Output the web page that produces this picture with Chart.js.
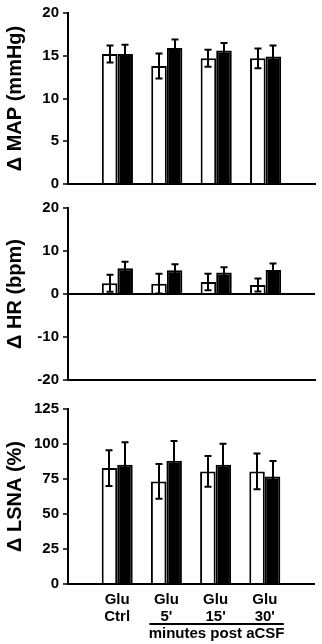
<!DOCTYPE html>
<html>
<head>
<meta charset="utf-8">
<script src="https://cdn.jsdelivr.net/npm/chart.js@4/dist/chart.umd.min.js"></script>
<style>
  html, body { margin: 0; padding: 0; background: #fff; }
  body { width: 322px; height: 644px; position: relative; overflow: hidden; }
  canvas { position: absolute; left: 0; }
</style>
</head>
<body>
<canvas id="c1" width="322" height="200" style="top:0px"></canvas>
<canvas id="c2" width="322" height="200" style="top:195px"></canvas>
<canvas id="c3" width="322" height="249" style="top:395px"></canvas>
<script>
// ---- data ----
const categories = [['Glu', 'Ctrl'], ['Glu', "5'"], ['Glu', "15'"], ['Glu', "30'"]];
const mapWhite = [15.2, 13.8, 14.7, 14.7];
const mapWhiteErr = [1.0, 1.45, 1.0, 1.15];
const mapBlack = [15.2, 15.9, 15.6, 14.9];
const mapBlackErr = [1.1, 1.0, 0.9, 1.3];
const hrWhite = [2.5, 2.4, 2.8, 2.1];
const hrWhiteErr = [2.0, 2.3, 1.9, 1.5];
const hrBlack = [6.0, 5.5, 5.0, 5.6];
const hrBlackErr = [1.5, 1.4, 1.2, 1.5];
const lsnaWhite = [82.8, 73.3, 80.4, 80.4];
const lsnaWhiteErr = [12.8, 12.4, 11.0, 12.8];
const lsnaBlack = [85.2, 88.1, 85.2, 76.8];
const lsnaBlackErr = [16.0, 14.0, 15.0, 11.0];
const mapTicks = [0, 20, 5];
const hrTicks = [-20, 20, 10];
const lsnaTicks = [0, 125, 25];
const groupNote = 'minutes post aCSF';

// padded with empty slots at both ends of the axis
const pad = a => [null, ...a, null];
const labels = ['', ...categories, ''];
const FONT = "'Liberation Sans', Arial, Helvetica, sans-serif";

const errorBars = {
  id: 'errorBars',
  afterDatasetsDraw(chart) {
    const ctx = chart.ctx;
    const ys = chart.scales.y;
    ctx.save();
    ctx.strokeStyle = '#000';
    ctx.lineWidth = 2;
    chart.data.datasets.forEach((ds, di) => {
      const meta = chart.getDatasetMeta(di);
      meta.data.forEach((el, i) => {
        const v = ds.data[i], e = ds.errors[i];
        if (v == null || e == null) return;
        const x = Math.round(el.x);
        const yt = ys.getPixelForValue(v + e);
        const yb = ys.getPixelForValue(v - e);
        ctx.beginPath();
        ctx.moveTo(x, yt); ctx.lineTo(x, yb);
        ctx.moveTo(x - 3.5, yt); ctx.lineTo(x + 3.5, yt);
        ctx.moveTo(x - 3.5, yb); ctx.lineTo(x + 3.5, yb);
        ctx.stroke();
      });
    });
    ctx.restore();
  }
};

const groupLabel = {
  id: 'groupLabel',
  afterDraw(chart) {
    if (!chart.options.plugins.groupLabel || !chart.options.plugins.groupLabel.show) return;
    const ctx = chart.ctx;
    const xs = chart.scales.x;
    const left = xs.getPixelForValue(2) - 17;
    const right = xs.getPixelForValue(4) + 19;
    const yLine = chart.chartArea.bottom + 40;
    ctx.save();
    ctx.strokeStyle = '#000';
    ctx.lineWidth = 2;
    ctx.beginPath();
    ctx.moveTo(left, yLine); ctx.lineTo(right, yLine);
    ctx.stroke();
    ctx.fillStyle = '#000';
    ctx.font = "bold 15px " + FONT;
    ctx.textAlign = 'center';
    ctx.textBaseline = 'middle';
    ctx.fillText(groupNote, (left + right) / 2, yLine + 10);
    ctx.restore();
  }
};

function makeChart(id, white, whiteErr, black, blackErr, ticks, title, opts) {
  const [ymin, ymax, step] = ticks;
  const showX = opts.showX;
  return new Chart(document.getElementById(id), {
    type: 'bar',
    data: {
      labels: labels,
      datasets: [
        { data: pad(white), errors: pad(whiteErr), backgroundColor: '#fff', borderColor: '#000', borderWidth: 2 },
        { data: pad(black), errors: pad(blackErr), backgroundColor: '#000', borderColor: '#000', borderWidth: 2 }
      ]
    },
    options: {
      responsive: false,
      animation: false,
      devicePixelRatio: 1,
      layout: { padding: { top: opts.top, bottom: opts.bottom, left: 0, right: 7 } },
      categoryPercentage: 0.63,
      barPercentage: 1.0,
      plugins: {
        legend: { display: false },
        tooltip: { enabled: false },
        groupLabel: { show: !!opts.note }
      },
      scales: {
        x: {
          offset: false,
          grid: { drawOnChartArea: false, drawTicks: false },
          border: { display: true, color: '#000', width: 2 },
          ticks: {
            display: showX,
            autoSkip: false,
            maxRotation: 0,
            color: '#000',
            padding: 8,
            font: { family: FONT, size: 15, weight: 'bold', lineHeight: 1.1 }
          },
          afterFit: s => { s.height = showX ? 60 : 0; }
        },
        y: {
          min: ymin, max: ymax,
          ticks: {
            stepSize: step,
            color: '#000',
            padding: 4,
            font: { family: FONT, size: 15, weight: 'bold' }
          },
          grid: {
            drawOnChartArea: !!opts.zeroLine,
            drawTicks: true,
            tickLength: 5,
            tickColor: '#000',
            tickWidth: 1.5,
            color: c => (opts.zeroLine && c.tick && c.tick.value === 0) ? '#000' : 'rgba(0,0,0,0)',
            lineWidth: 2
          },
          border: { display: true, color: '#000', width: 2 },
          title: {
            display: true,
            text: title,
            color: '#000',
            padding: { top: 3, bottom: 0 },
            font: { family: FONT, size: 20, weight: 'bold' }
          },
          afterFit: s => { s.width = 68; }
        }
      }
    },
    plugins: [errorBars, groupLabel]
  });
}

makeChart('c1', mapWhite, mapWhiteErr, mapBlack, mapBlackErr, mapTicks, '\u0394 MAP (mmHg)',
  { top: 9, bottom: 16, showX: false });
makeChart('c2', hrWhite, hrWhiteErr, hrBlack, hrBlackErr, hrTicks, '\u0394 HR (bpm)',
  { top: 10, bottom: 15, showX: false, zeroLine: true });
makeChart('c3', lsnaWhite, lsnaWhiteErr, lsnaBlack, lsnaBlackErr, lsnaTicks, '\u0394 LSNA (%)',
  { top: 14, bottom: 0, showX: true, note: true });
</script>
</body>
</html>
